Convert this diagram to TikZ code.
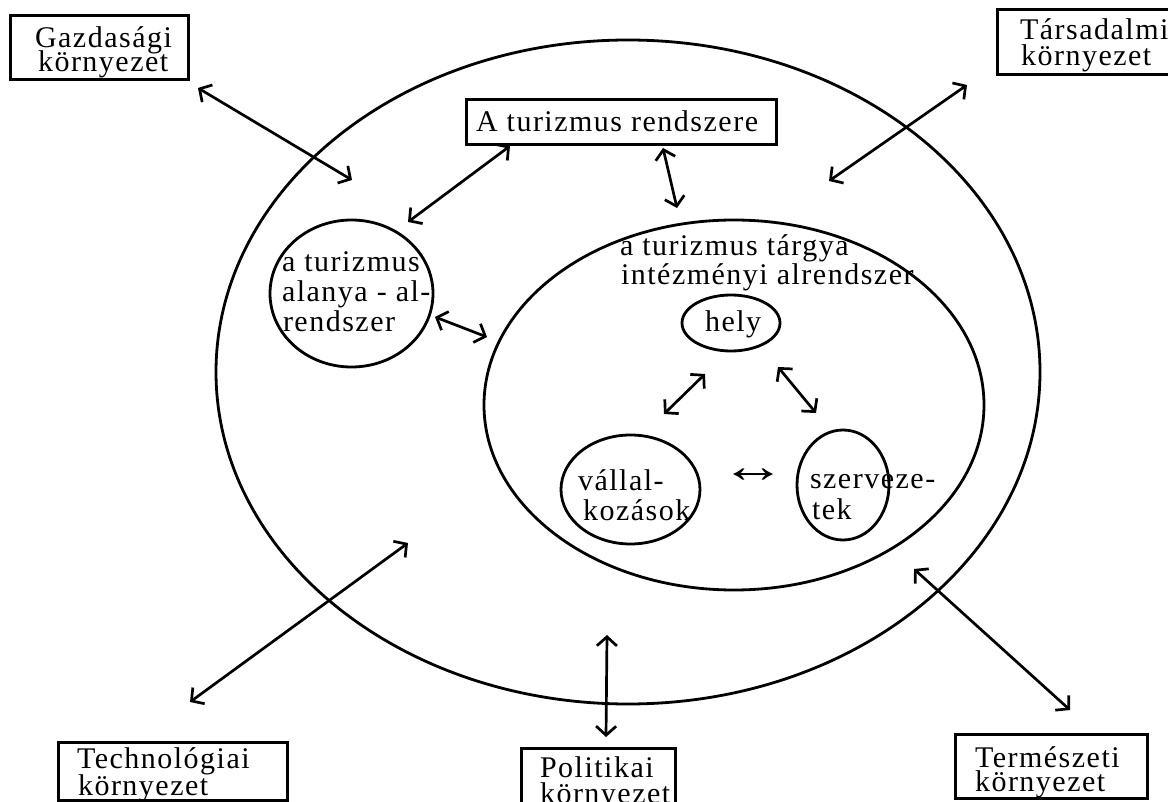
\documentclass[tikz,border=0pt]{standalone}
\usepackage{fontspec}
\usepackage{graphicx}
\setmainfont{Liberation Serif}[LetterSpace=5]
\usetikzlibrary{arrows.meta,shapes.geometric}

\begin{document}
\begin{tikzpicture}[x=1pt,y=-1pt,
  every node/.style={font=\fontsize{30}{30}\selectfont, inner sep=0pt, outer sep=0pt},
  txt/.style={anchor=base west},
  envbox/.style={draw, line width=3pt, anchor=north west},
  ring/.style={draw, ellipse, line width=2.8pt},
  barb/.tip={Straight Barb[length=9pt,width=20pt]},
  link/.style={line width=2.7pt, barb-barb}]

\useasboundingbox (0,0) rectangle (1168,802);

% system ellipses
\node[ring, minimum width=824pt, minimum height=664pt] (outer) at (628,372) {};
\node[ring, minimum width=500pt, minimum height=370pt] (inner) at (734,405) {};
\node[ring, minimum width=163pt, minimum height=147pt] (alany) at (351.5,293.5) {};
\node[ring, minimum width=98pt, minimum height=56pt] (hely) at (731,323) {};
\node[ring, minimum width=139pt, minimum height=109pt] (vall) at (630.5,489.5) {};
\node[ring, minimum width=92pt, minimum height=110pt] (szerv) at (843,485) {};

% environment boxes
\node[envbox, minimum width=178pt, minimum height=64pt] (gazbox) at (10,16) {};
\node[envbox, minimum width=190pt, minimum height=65pt] (tarsbox) at (997,10) {};
\node[envbox, minimum width=310pt, minimum height=45pt] (rendbox) at (466,100) {};
\node[envbox, minimum width=229pt, minimum height=58pt] (techbox) at (58,742) {};
\node[envbox, minimum width=154pt, minimum height=70pt] (polbox) at (521,748) {};
\node[envbox, minimum width=192pt, minimum height=64pt] (termbox) at (955,734) {};

% labels
\node[txt] (gaz1) at (35,48) {Gazdasági};
\node[txt] (gaz2) at (38,72) {környezet};
\node[txt] (tars1) at (1020,40) {Társadalmi};
\node[txt] (tars2) at (1021,66) {környezet};
\node[txt] (rend) at (476,132) {A turizmus rendszere};
\node[txt] (tech1) at (77,768) {Technológiai};
\node[txt] (tech2) at (78,795) {környezet};
\node[txt] (pol1) at (540,777) {Politikai};
\node[txt] (pol2) at (540,803) {környezet};
\node[txt] (term1) at (975,767) {Természeti};
\node[txt] (term2) at (975,791) {környezet};

\node[txt] (al1) at (282,272) {a turizmus};
\node[txt] (al2) at (282,302) {alanya - al-};
\node[txt] (al3) at (283,332) {rendszer};
\node[txt] (tg1) at (620,256) {a turizmus tárgya};
\node[txt] (tg2) at (621,285) {intézményi alrendszer};
\node[txt] (helyt) at (705,332) {hely};
\node[txt] (va1) at (578,490) {vállal-};
\node[txt] (va2) at (583,520) {kozások};
\node[txt] (sz1) at (810,488) {szerveze-};
\node[txt] (sz2) at (812,519) {tek};
\node (kapcs) at (753,476) {\scalebox{2.2}[1.6]{↔}};

% connector end points
\coordinate (a1) at (198,88);   \coordinate (b1) at (352,180);
\coordinate (a2) at (967,85);   \coordinate (b2) at (829,181);
\coordinate (a3) at (510,146);  \coordinate (b3) at (408,222);
\coordinate (a4) at (663,148);  \coordinate (b4) at (677,208);
\coordinate (a5) at (435,317);  \coordinate (b5) at (487,337);
\coordinate (a6) at (705,374);  \coordinate (b6) at (664,414);
\coordinate (a7) at (778,367);  \coordinate (b7) at (816,413);
\coordinate (a8) at (190,702);  \coordinate (b8) at (408,543);
\coordinate (a9) at (607,635);  \coordinate (b9) at (606,737);
\coordinate (a10) at (914,569); \coordinate (b10) at (1070,710);

\draw[link] (a1) -- (b1);
\draw[link] (a2) -- (b2);
\draw[link] (a3) -- (b3);
\draw[link] (a4) -- (b4);
\draw[link] (a5) -- (b5);
\draw[link] (a6) -- (b6);
\draw[link] (a7) -- (b7);
\draw[link] (a8) -- (b8);
\draw[link] (a9) -- (b9);
\draw[link] (a10) -- (b10);
\end{tikzpicture}
\end{document}
